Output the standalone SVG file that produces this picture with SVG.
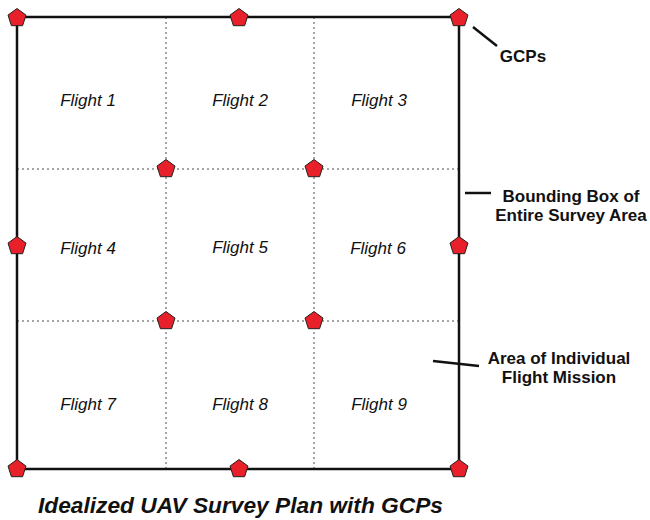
<svg xmlns="http://www.w3.org/2000/svg" width="650" height="520" viewBox="0 0 650 520">
<defs>
<style>
.grid{stroke:#888;stroke-width:1.5;stroke-dasharray:2 3;fill:none}
.box{stroke:#111;stroke-width:2.5;fill:none}
.lead{stroke:#111;stroke-width:2.5}
.fl{font-family:"Liberation Sans",Arial,sans-serif;font-style:italic;font-size:17px;fill:#111;text-anchor:middle}
.lbl{font-family:"Liberation Sans",Arial,sans-serif;font-weight:bold;font-size:17px;fill:#111;text-anchor:middle}
.title{font-family:"Liberation Sans",Arial,sans-serif;font-weight:bold;font-style:italic;font-size:22.5px;fill:#111}
</style>
<polygon id="gcp" points="0,-9.5 9,-2.9 5.6,7.7 -5.6,7.7 -9,-2.9" fill="#e8202a" stroke="#222" stroke-width="1"/>
</defs>
<rect width="650" height="520" fill="#fff"/>
<g id="grid">
<line class="grid" x1="166" y1="17" x2="166" y2="469"/>
<line class="grid" x1="314" y1="17" x2="314" y2="469"/>
<line class="grid" x1="17" y1="169" x2="459" y2="169"/>
<line class="grid" x1="17" y1="321" x2="459" y2="321"/>
</g>
<g id="boundary">
<rect class="box" x="17" y="17" width="442" height="452"/>
</g>
<g id="connectors">
<line class="lead" x1="473" y1="27" x2="497" y2="46"/>
<line class="lead" x1="465" y1="193" x2="491" y2="193"/>
<line class="lead" x1="433" y1="361" x2="479" y2="366"/>
</g>
<g id="gcps">
<use href="#gcp" x="17" y="18"/>
<use href="#gcp" x="239" y="18"/>
<use href="#gcp" x="459" y="18"/>
<use href="#gcp" x="17" y="246"/>
<use href="#gcp" x="459" y="246"/>
<use href="#gcp" x="17" y="469"/>
<use href="#gcp" x="239" y="469"/>
<use href="#gcp" x="459" y="469"/>
<use href="#gcp" x="166" y="169"/>
<use href="#gcp" x="314" y="169"/>
<use href="#gcp" x="166" y="321"/>
<use href="#gcp" x="314" y="321"/>
</g>
<g id="flights">
<text class="fl" x="88" y="106">Flight 1</text>
<text class="fl" x="240" y="106">Flight 2</text>
<text class="fl" x="379" y="106">Flight 3</text>
<text class="fl" x="88" y="254">Flight 4</text>
<text class="fl" x="240" y="253">Flight 5</text>
<text class="fl" x="378" y="254">Flight 6</text>
<text class="fl" x="88" y="410">Flight 7</text>
<text class="fl" x="240" y="410">Flight 8</text>
<text class="fl" x="379" y="410">Flight 9</text>
</g>
<g id="label-gcps"><text class="lbl" x="523" y="62">GCPs</text></g>
<g id="label-bbox"><text class="lbl" x="571" y="202">Bounding Box of</text><text class="lbl" x="571" y="221">Entire Survey Area</text></g>
<g id="label-area"><text class="lbl" x="559" y="364">Area of Individual</text><text class="lbl" x="559" y="383">Flight Mission</text></g>
<text class="title" x="38" y="513" textLength="405" lengthAdjust="spacingAndGlyphs">Idealized UAV Survey Plan with GCPs</text>
</svg>
